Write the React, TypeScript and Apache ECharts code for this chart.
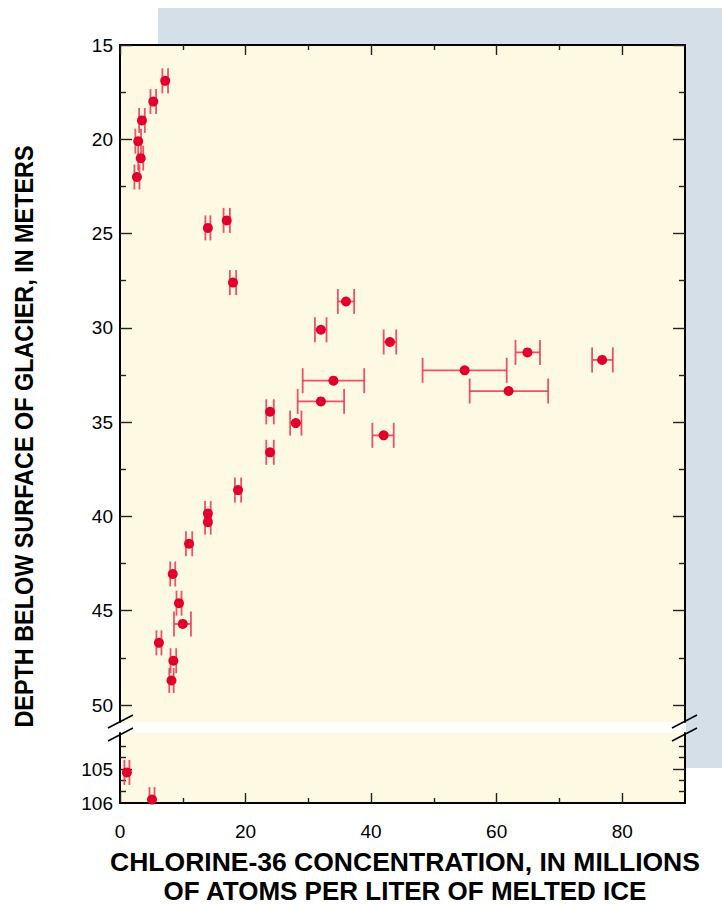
import React, { useEffect, useRef } from 'react';
import * as echarts from 'echarts';

// ---- data (upper depth section, 15–51 m) ----
const upperConc = [7.2, 5.3, 3.5, 2.9, 3.3, 2.7, 14.0, 17.0, 18.0, 36.0, 32.0, 43.0, 64.9, 76.8, 54.9, 34.0, 61.9, 32.0, 28.0, 42.0, 23.9, 23.9, 18.8, 14.0, 14.0, 11.0, 8.4, 9.4, 10.0, 6.2, 8.5, 8.2];
const upperDepth = [16.9, 18.0, 19.0, 20.1, 21.0, 22.0, 24.7, 24.3, 27.6, 28.6, 30.1, 30.75, 31.3, 31.7, 32.25, 32.8, 33.35, 33.9, 35.05, 35.7, 34.45, 36.6, 38.6, 39.85, 40.3, 41.45, 43.05, 44.6, 45.7, 46.7, 47.65, 48.7];
const upperLow = [6.75, 4.85, 3.05, 2.45, 2.9, 2.3, 13.6, 16.5, 17.5, 34.7, 31.05, 42.0, 63.0, 75.2, 48.2, 29.1, 55.7, 28.3, 27.1, 40.2, 23.3, 23.3, 18.3, 13.55, 13.55, 10.5, 8.0, 9.0, 8.6, 5.8, 8.05, 7.85];
const upperHigh = [7.65, 5.75, 3.95, 3.35, 3.7, 3.1, 14.4, 17.5, 18.5, 37.3, 32.9, 44.0, 66.9, 78.5, 61.6, 38.9, 68.2, 35.7, 28.9, 43.6, 24.5, 24.5, 19.3, 14.45, 14.45, 11.5, 8.8, 9.8, 11.3, 6.6, 8.95, 8.55];

// ---- data (lower depth section, ~104–106 m) ----
const lowerConc = [1.1, 5.1];
const lowerDepth = [105.1, 105.9];
const lowerLow = [0.7, 4.7];
const lowerHigh = [1.5, 5.5];

// ---- axes ----
const xMajorTicks = [0, 20, 40, 60, 80];
const xMinorTicks = [10, 30, 50, 70];
const yUpperMajor = [15, 20, 25, 30, 35, 40, 45, 50];
const yUpperMinor = [17.5, 22.5, 27.5, 32.5, 37.5, 42.5, 47.5];
const yLowerLabels = [105, 106];
const yLowerMajor = [105];
const yLowerMinor = [104.333, 104.667, 105.333, 105.667];

const xTitle1 = 'CHLORINE-36 CONCENTRATION, IN MILLIONS';
const xTitle2 = 'OF ATOMS PER LITER OF MELTED ICE';
const yTitle = 'DEPTH BELOW SURFACE OF GLACIER, IN METERS';

const FONT = '"Liberation Sans", Arial, Helvetica, sans-serif';
const PT_COLOR = '#e2002a';
const ERR_COLOR = '#e8354f';

function rows(c: number[], d: number[], lo: number[], hi: number[]) {
  return c.map((v, i) => [v, d[i], lo[i], hi[i]]);
}

const errItem = (_params: any, api: any) => {
  const y = api.value(1);
  const a = api.coord([api.value(2), y]);
  const b = api.coord([api.value(3), y]);
  const h = 12.5;
  const style = { stroke: ERR_COLOR, lineWidth: 1.8, opacity: 0.85 };
  return {
    type: 'group',
    children: [
      { type: 'line', shape: { x1: a[0], y1: a[1], x2: b[0], y2: b[1] }, style },
      { type: 'line', shape: { x1: a[0], y1: a[1] - h, x2: a[0], y2: a[1] + h }, style },
      { type: 'line', shape: { x1: b[0], y1: b[1] - h, x2: b[0], y2: b[1] + h }, style },
    ],
  };
};

const lineStyle = { show: true, onZero: false, lineStyle: { color: '#000', width: 2 } };
const noLine = { show: false, onZero: false };
const tickLine = { color: '#222', width: 1.4 };
const labelStyle = { color: '#000', fontSize: 19, fontFamily: FONT };

function xAx(grid: number, pos: string, withLine: boolean, ticks: number[], len: number, labels?: number[]) {
  return {
    type: 'value', gridIndex: grid, position: pos, min: 0, max: 90,
    axisLine: withLine ? lineStyle : noLine,
    axisTick: { show: true, inside: true, length: len, customValues: ticks, lineStyle: tickLine },
    axisLabel: labels ? { show: true, customValues: labels, margin: 19, ...labelStyle } : { show: false },
    splitLine: { show: false },
  };
}

function yAx(grid: number, pos: string, min: number, max: number, withLine: boolean, ticks: number[], len: number, labels?: number[]) {
  return {
    type: 'value', gridIndex: grid, position: pos, min, max, inverse: true,
    axisLine: withLine ? lineStyle : noLine,
    axisTick: { show: true, inside: true, length: len, customValues: ticks, lineStyle: tickLine },
    axisLabel: labels ? { show: true, customValues: labels, margin: 7, padding: [5, 0, 0, 0], ...labelStyle } : { show: false },
    splitLine: { show: false },
  };
}

const UP_MIN = 15, UP_MAX = 50.9, LO_MIN = 103.94, LO_MAX = 106;

export default function App() {
  const ref = useRef<HTMLDivElement>(null);
  useEffect(() => {
    const chart = echarts.init(ref.current!, null, { renderer: 'svg', width: 722, height: 905 });
    const option: any = {
      animation: false,
      grid: [
        { left: 120, top: 45, width: 565, height: 677, show: true, backgroundColor: '#fef9e2', borderWidth: 0 },
        { left: 120, top: 733, width: 565, height: 70, show: true, backgroundColor: '#fef9e2', borderWidth: 0 },
      ],
      xAxis: [
        xAx(0, 'top', true, xMajorTicks, 10),
        xAx(0, 'top', false, xMinorTicks, 5),
        xAx(1, 'bottom', true, xMajorTicks, 10, xMajorTicks),
        xAx(1, 'bottom', false, xMinorTicks, 5),
      ],
      yAxis: [
        yAx(0, 'left', UP_MIN, UP_MAX, true, yUpperMajor, 12, yUpperMajor),
        yAx(0, 'left', UP_MIN, UP_MAX, false, yUpperMinor, 6),
        yAx(0, 'right', UP_MIN, UP_MAX, true, yUpperMajor, 12),
        yAx(0, 'right', UP_MIN, UP_MAX, false, yUpperMinor, 6),
        yAx(1, 'left', LO_MIN, LO_MAX, true, yLowerMajor, 12, yLowerLabels),
        yAx(1, 'left', LO_MIN, LO_MAX, false, yLowerMinor, 6),
        yAx(1, 'right', LO_MIN, LO_MAX, true, yLowerMajor, 12),
        yAx(1, 'right', LO_MIN, LO_MAX, false, yLowerMinor, 6),
      ],
      series: [
        {
          type: 'custom', xAxisIndex: 0, yAxisIndex: 0, renderItem: errItem,
          data: rows(upperConc, upperDepth, upperLow, upperHigh), encode: { x: 0, y: 1 }, clip: true,
        },
        {
          type: 'scatter', xAxisIndex: 0, yAxisIndex: 0, symbolSize: 10,
          itemStyle: { color: PT_COLOR, opacity: 1 },
          data: upperConc.map((v, i) => [v, upperDepth[i]]),
        },
        {
          type: 'custom', xAxisIndex: 2, yAxisIndex: 4, renderItem: errItem,
          data: rows(lowerConc, lowerDepth, lowerLow, lowerHigh), encode: { x: 0, y: 1 }, clip: true,
        },
        {
          type: 'scatter', xAxisIndex: 2, yAxisIndex: 4, symbolSize: 10,
          itemStyle: { color: PT_COLOR, opacity: 1 },
          data: lowerConc.map((v, i) => [v, lowerDepth[i]]),
        },
      ],
      graphic: {
        elements: [
          { type: 'rect', shape: { x: 119, y: 722, width: 567, height: 11 }, style: { fill: '#ffffff' } },
          { type: 'line', shape: { x1: 108, y1: 728, x2: 133, y2: 715 }, style: { stroke: '#000', lineWidth: 1.5 } },
          { type: 'line', shape: { x1: 108, y1: 741, x2: 133, y2: 728 }, style: { stroke: '#000', lineWidth: 1.5 } },
          { type: 'line', shape: { x1: 672, y1: 728, x2: 697, y2: 715 }, style: { stroke: '#000', lineWidth: 1.5 } },
          { type: 'line', shape: { x1: 672, y1: 741, x2: 697, y2: 728 }, style: { stroke: '#000', lineWidth: 1.5 } },
          {
            type: 'text', x: 405, y: 862,
            style: { text: xTitle1, font: `bold 26.5px ${FONT}`, fill: '#000', align: 'center', verticalAlign: 'middle', textAlign: 'center', textVerticalAlign: 'middle' },
          },
          {
            type: 'text', x: 405, y: 891,
            style: { text: xTitle2, font: `bold 26px ${FONT}`, fill: '#000', align: 'center', verticalAlign: 'middle', textAlign: 'center', textVerticalAlign: 'middle' },
          },
          {
            type: 'text', x: 24, y: 436.5, rotation: Math.PI / 2, scaleX: 0.9,
            style: { text: yTitle, font: `bold 26px ${FONT}`, fill: '#000', align: 'center', verticalAlign: 'middle', textAlign: 'center', textVerticalAlign: 'middle' },
          },
        ],
      },
    };
    chart.setOption(option);
    return () => chart.dispose();
  }, []);
  return (
    <div style={{ position: 'fixed', left: 0, top: 0, width: 722, height: 905, background: '#fff' }}>
      <div style={{ position: 'absolute', left: 158, top: 8, width: 564, height: 760, background: '#d5dfe8' }} />
      <div ref={ref} style={{ position: 'absolute', left: 0, top: 0, width: 722, height: 905 }} />
    </div>
  );
}
